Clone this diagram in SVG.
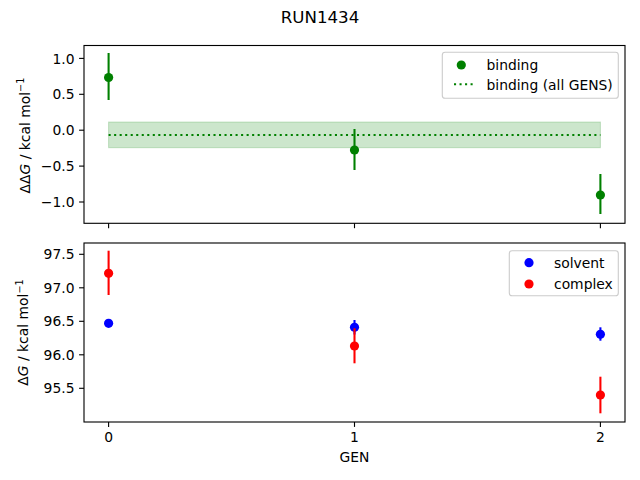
<svg xmlns="http://www.w3.org/2000/svg" width="640" height="480" viewBox="0 0 640 480">
<style>
text{font-family:"DejaVu Sans","Liberation Sans",sans-serif;font-size:13.89px;fill:#000}
.tl{text-anchor:end}
.tc{text-anchor:middle}
.spine{fill:none;stroke:#000;stroke-width:1.11}
.tick{stroke:#000;stroke-width:1.11}
.eg{stroke:#008000;stroke-width:2.08}
.er{stroke:#ff0000;stroke-width:2.08}
.eb{stroke:#0000ff;stroke-width:2.08}
.leg{fill:#fff;fill-opacity:0.8;stroke:#cccccc;stroke-width:1.11}
</style>
<rect width="640" height="480" fill="#fff"/>
<text id="title" x="320" y="22.7" class="tc" style="font-size:16.67px">RUN1434</text>

<g id="top-axes">
  <rect id="band" x="108.6" y="122" width="491.8" height="25.7" fill="#008000" fill-opacity="0.2" stroke="#008000" stroke-opacity="0.2" stroke-width="1"/>
  <line id="mean-line" x1="108.6" y1="135" x2="600.4" y2="135" stroke="#008000" stroke-width="2.08" stroke-dasharray="2.08 3.44"/>
  <g id="binding-points">
    <line class="eg" x1="108.6" y1="53" x2="108.6" y2="100"/>
    <circle cx="108.6" cy="77.5" r="4.6" fill="#008000"/>
    <line class="eg" x1="354.5" y1="129" x2="354.5" y2="170"/>
    <circle cx="354.5" cy="150" r="4.6" fill="#008000"/>
    <line class="eg" x1="600.4" y1="174" x2="600.4" y2="214"/>
    <circle cx="600.4" cy="195" r="4.6" fill="#008000"/>
  </g>
  <rect class="spine" x="84" y="45.5" width="541" height="177.8"/>
  <g id="top-yticks">
    <line class="tick" x1="79.1" y1="58.4" x2="84" y2="58.4"/>
    <line class="tick" x1="79.1" y1="94.3" x2="84" y2="94.3"/>
    <line class="tick" x1="79.1" y1="130.2" x2="84" y2="130.2"/>
    <line class="tick" x1="79.1" y1="166.1" x2="84" y2="166.1"/>
    <line class="tick" x1="79.1" y1="202" x2="84" y2="202"/>
    <text class="tl" x="74.5" y="63.5">1.0</text>
    <text class="tl" x="74.5" y="99.4">0.5</text>
    <text class="tl" x="74.5" y="135.3">0.0</text>
    <text class="tl" x="74.5" y="171.2">−0.5</text>
    <text class="tl" x="74.5" y="207.1">−1.0</text>
  </g>
  <g id="top-xticks">
    <line class="tick" x1="108.6" y1="223.3" x2="108.6" y2="228.2"/>
    <line class="tick" x1="354.5" y1="223.3" x2="354.5" y2="228.2"/>
    <line class="tick" x1="600.4" y1="223.3" x2="600.4" y2="228.2"/>
  </g>
  <text id="top-ylabel" class="tc" transform="translate(29.7,135.5) rotate(-90)">ΔΔ<tspan font-style="italic">G</tspan> / kcal mol<tspan font-size="9.7px" dy="-5.5">−1</tspan></text>
  <g id="top-legend">
    <rect class="leg" x="442.3" y="52.3" width="176" height="46" rx="2.8"/>
    <circle cx="461.3" cy="65" r="4.6" fill="#008000"/>
    <text x="486.5" y="69.5">binding</text>
    <line x1="454" y1="84.3" x2="475.2" y2="84.3" stroke="#008000" stroke-width="2.08" stroke-dasharray="2.08 3.44"/>
    <text x="486.5" y="89.5">binding (all GENS)</text>
  </g>
</g>

<g id="bottom-axes">
  <g id="solvent-points">
    <line class="eb" x1="108.6" y1="320.8" x2="108.6" y2="325.8"/>
    <circle cx="108.6" cy="323.3" r="4.6" fill="#0000ff"/>
    <line class="eb" x1="354.5" y1="320" x2="354.5" y2="334.5"/>
    <circle cx="354.5" cy="327.3" r="4.6" fill="#0000ff"/>
    <line class="eb" x1="600.4" y1="327.3" x2="600.4" y2="340.7"/>
    <circle cx="600.4" cy="334.3" r="4.6" fill="#0000ff"/>
  </g>
  <g id="complex-points">
    <line class="er" x1="108.6" y1="250.7" x2="108.6" y2="295"/>
    <circle cx="108.6" cy="273.3" r="4.6" fill="#ff0000"/>
    <line class="er" x1="354.5" y1="328.3" x2="354.5" y2="363.3"/>
    <circle cx="354.5" cy="346" r="4.6" fill="#ff0000"/>
    <line class="er" x1="600.4" y1="376.7" x2="600.4" y2="413.3"/>
    <circle cx="600.4" cy="395" r="4.6" fill="#ff0000"/>
  </g>
  <rect class="spine" x="84" y="243" width="541" height="179"/>
  <g id="bottom-yticks">
    <line class="tick" x1="79.1" y1="254.3" x2="84" y2="254.3"/>
    <line class="tick" x1="79.1" y1="287.8" x2="84" y2="287.8"/>
    <line class="tick" x1="79.1" y1="321.3" x2="84" y2="321.3"/>
    <line class="tick" x1="79.1" y1="354.8" x2="84" y2="354.8"/>
    <line class="tick" x1="79.1" y1="388.3" x2="84" y2="388.3"/>
    <text class="tl" x="74.5" y="259.4">97.5</text>
    <text class="tl" x="74.5" y="292.9">97.0</text>
    <text class="tl" x="74.5" y="326.4">96.5</text>
    <text class="tl" x="74.5" y="359.9">96.0</text>
    <text class="tl" x="74.5" y="393.4">95.5</text>
  </g>
  <g id="bottom-xticks">
    <line class="tick" x1="108.6" y1="422" x2="108.6" y2="426.9"/>
    <line class="tick" x1="354.5" y1="422" x2="354.5" y2="426.9"/>
    <line class="tick" x1="600.4" y1="422" x2="600.4" y2="426.9"/>
    <text class="tc" x="108.6" y="441.7">0</text>
    <text class="tc" x="354.5" y="441.7">1</text>
    <text class="tc" x="600.4" y="441.7">2</text>
  </g>
  <text id="xlabel" class="tc" x="354.5" y="462">GEN</text>
  <text id="bottom-ylabel" class="tc" transform="translate(28,332.5) rotate(-90)">Δ<tspan font-style="italic">G</tspan> / kcal mol<tspan font-size="9.7px" dy="-5.5">−1</tspan></text>
  <g id="bottom-legend">
    <rect class="leg" x="509.3" y="250.7" width="109" height="45" rx="2.8"/>
    <circle cx="529" cy="262.7" r="4.6" fill="#0000ff"/>
    <text x="554" y="267.5">solvent</text>
    <circle cx="529" cy="284" r="4.6" fill="#ff0000"/>
    <text x="554" y="288.5">complex</text>
  </g>
</g>
</svg>
